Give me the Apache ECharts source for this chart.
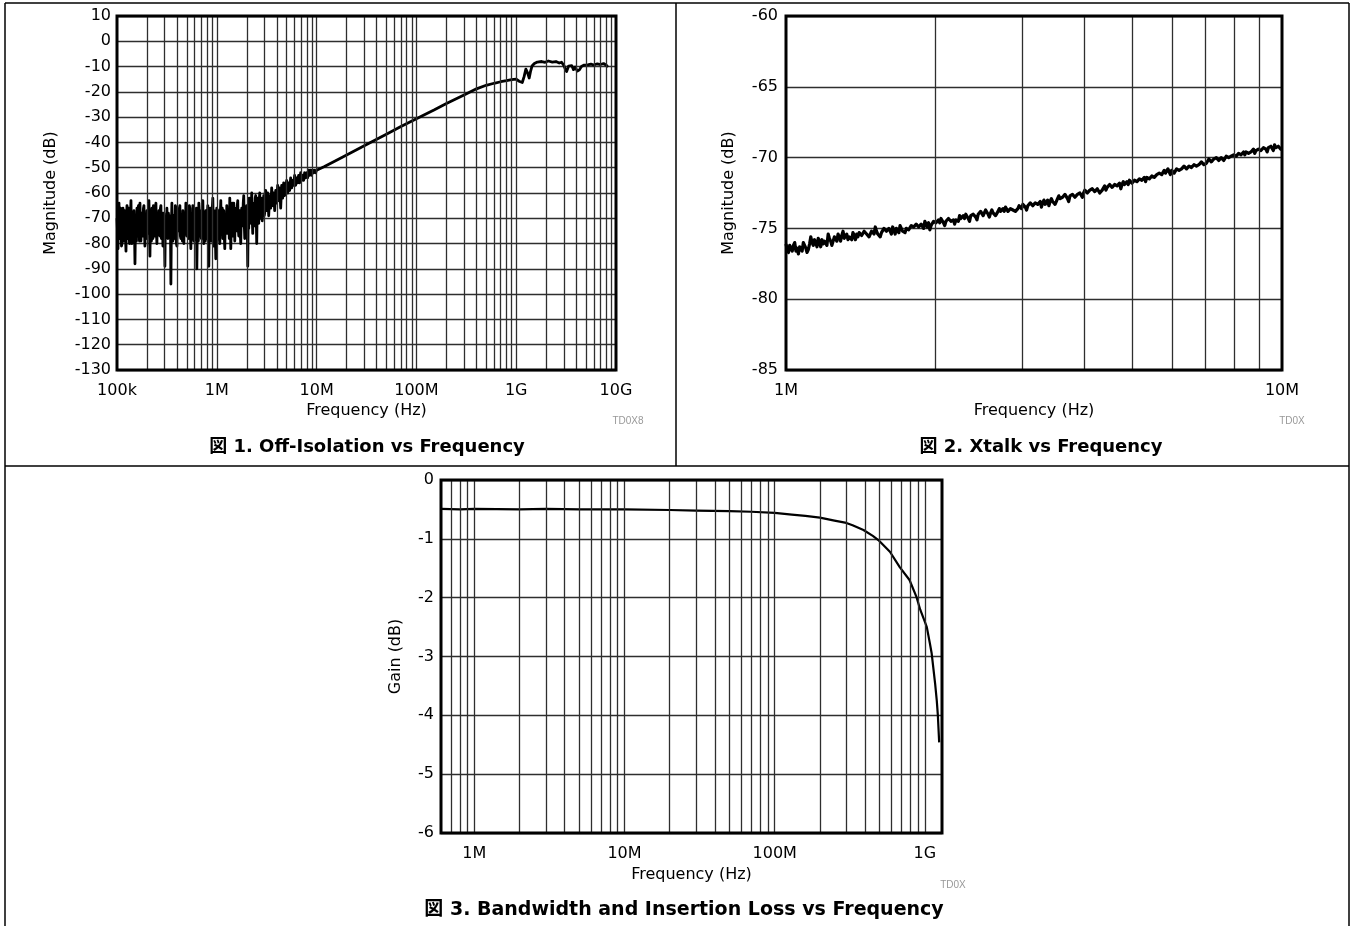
<!DOCTYPE html>
<html><head><meta charset="utf-8">
<script src="https://cdn.jsdelivr.net/npm/echarts@6/dist/echarts.min.js"></script>
<style>html,body{margin:0;padding:0;background:#fff;}#c{width:1350px;height:926px;}</style>
</head><body><div id="c"></div>
<script>
// ---------- Figure 1: Off-Isolation ----------
const isoTickValues = [1e5, 1e6, 1e7, 1e8, 1e9, 1e10];
const isoTickLabels = ['100k', '1M', '10M', '100M', '1G', '10G'];
// noisy floor, sampled every 0.005 decade from 100 kHz (10^5) to ~3.16 MHz (10^6.5)
const isoNoiseStartExp = 5;
const isoNoiseStepExp = 0.005;
const isoNoiseDb = [
  -70,-75,-82,-69,-64,-78,-76,-66,-68,-81,-80,-72,-66,-79,-74,-67,-71,-77,-83,-70,
  -65,-73,-78,-66,-69,-80,-75,-68,-63,-76,-80,-70,-72,-78,-67,-74,-88,-73,-70,-79,
  -66,-72,-77,-65,-71,-79,-64,-73,-79,-70,-68,-77,-74,-66,-65,-75,-81,-69,-70,-78,
  -67,-73,-76,-68,-63,-74,-85,-70,-72,-79,-66,-71,-78,-65,-69,-77,-74,-67,-64,-76,
  -80,-69,-70,-76,-67,-72,-77,-66,-65,-78,-73,-68,-81,-72,-68,-75,-89,-70,-71,-77,
  -66,-74,-78,-68,-70,-77,-75,-69,-96,-73,-64,-76,-79,-70,-69,-78,-75,-65,-66,-80,
  -81,-70,-68,-75,-73,-66,-65,-77,-78,-69,-70,-79,-67,-72,-80,-68,-72,-76,-64,-73,
  -77,-67,-69,-78,-74,-65,-66,-76,-82,-70,-71,-78,-65,-73,-79,-67,-68,-77,-75,-66,
  -90,-72,-70,-79,-64,-71,-77,-67,-69,-78,-73,-65,-63,-76,-80,-69,-71,-79,-67,-74,
  -78,-69,-65,-75,-89,-70,-72,-66,-68,-79,-76,-66,-62,-74,-81,-67,-70,-77,-86,-71,
  -66,-74,-75,-67,-69,-78,-80,-68,-63,-75,-73,-66,-78,-71,-67,-77,-82,-69,-70,-76,
  -65,-74,-76,-67,-71,-78,-62,-70,-82,-73,-69,-64,-74,-77,-64,-70,-79,-66,-68,-75,
  -73,-65,-63,-74,-77,-68,-67,-76,-80,-69,-66,-73,-72,-64,-61,-72,-78,-66,-69,-74,
  -65,-72,-89,-68,-74,-62,-63,-72,-71,-65,-60,-70,-76,-64,-66,-73,-70,-62,-61,-69,
  -80,-66,-62,-71,-72,-63,-60,-69,-70,-62,-63,-71,-71,-64,-61,-69,-68,-60,-59,-66,
  -67
];
// rising noisy part, sampled every 0.01 decade from 10^6.51 to 10 MHz (10^7)
const isoMidStartExp = 6.51;
const isoMidStepExp = 0.01;
const isoMidDb = [
  -60,-69,-61,-66,-58,-65,-60,-67,-59,
  -64,-57,-63,-58,-66,-57,-62,-56,-61,-58,
  -55,-60,-56,-59,-54,-58,-55,-57,-53,-57,
  -54,-56,-53,-56,-52,-55,-53,-55,-52,-54,
  -52,-54,-51,-53,-51,-53,-51,-52,-51,-52,-51
];
// smooth high-frequency part [Hz, dB]
const isoSmooth = [
  [1.2e7,-49.5],[1.5e7,-47.5],[2e7,-45],[3e7,-41.3],[5e7,-36.8],[7e7,-33.7],
  [1e8,-30.6],[1.5e8,-27.2],[2e8,-24.6],[3e8,-21.2],[4e8,-18.8],[5e8,-17.4],
  [6e8,-16.6],[7e8,-16],[8e8,-15.6],[9e8,-15.2],[1e9,-15],[1.07e9,-15.8],
  [1.15e9,-16.3],[1.2e9,-14],[1.25e9,-11],[1.3e9,-12.5],[1.35e9,-14.5],
  [1.39e9,-12],[1.44e9,-9.8],[1.52e9,-8.8],[1.63e9,-8.2],[1.8e9,-8],
  [1.95e9,-8.3],[2.1e9,-7.8],[2.3e9,-8.2],[2.5e9,-8],[2.7e9,-8.6],[2.85e9,-8.3],
  [3.0e9,-9.5],[3.1e9,-11],[3.2e9,-12],[3.35e9,-9.8],[3.5e9,-10.5],[3.6e9,-9.6],
  [3.75e9,-11.2],[3.9e9,-10.2],[4.1e9,-11.8],[4.3e9,-11.3],[4.5e9,-10],
  [4.8e9,-9.4],[5.2e9,-9.3],[5.6e9,-9],[6e9,-9.4],[6.5e9,-8.9],[7e9,-9.2],
  [7.5e9,-8.8],[8e9,-9.5],[8.3e9,-10.2]
];

// ---------- Figure 2: Xtalk ----------
const xtalkTickValues = [1e6, 1e7];
const xtalkTickLabels = ['1M', '10M'];
// sampled every 0.0025 decade from 1 MHz to 10 MHz
const xtalkStartExp = 6;
const xtalkStepExp = 0.0025;
const xtalkDb = [
  -76.1,-76.5,-76.7,-76.2,-76.4,-76.6,-76.2,-76.0,-76.6,-76.4,-76.8,-76.3,-76.3,-76.6,-76.0,-76.2,-76.4,-76.7,-76.5,-76.1,
  -75.6,-76.0,-76.2,-75.8,-76.0,-76.3,-75.7,-75.9,-76.3,-75.8,-76.1,-75.9,-75.8,-76.2,-75.4,-75.7,-75.9,-76.2,-76.1,-75.6,
  -75.7,-75.9,-75.4,-75.6,-75.9,-75.5,-75.2,-75.7,-75.6,-75.4,-75.8,-75.6,-75.5,-75.8,-75.3,-75.5,-75.8,-75.4,-75.6,-75.3,
  -75.3,-75.5,-75.6,-75.2,-75.1,-75.4,-75.4,-75.6,-75.5,-75.2,-75.2,-75.4,-74.9,-75.2,-75.4,-75.5,-75.6,-75.3,-75.2,-75.0,
  -75.0,-75.2,-75.3,-75.0,-75.2,-75.4,-74.9,-75.1,-75.4,-75.0,-75.1,-75.3,-74.8,-75.0,-75.2,-75.3,-75.3,-75.0,-74.9,-75.1,
  -75.1,-74.8,-74.7,-74.9,-74.9,-74.7,-74.6,-74.9,-75.0,-74.7,-74.8,-75.0,-74.5,-74.7,-74.9,-74.6,-75.1,-74.8,-74.7,-74.5,
  -74.4,-74.6,-74.7,-74.4,-74.6,-74.3,-74.3,-74.6,-74.8,-74.5,-74.5,-74.3,-74.2,-74.5,-74.6,-74.4,-74.7,-74.4,-74.3,-74.5,
  -74.1,-74.3,-74.4,-74.1,-74.3,-74.0,-74.0,-74.3,-74.5,-74.1,-74.2,-74.0,-73.9,-74.2,-74.4,-74.0,-74.1,-73.8,-73.9,-74.1,
  -74.0,-73.7,-73.8,-74.0,-74.2,-73.9,-73.7,-73.9,-73.9,-74.1,-74.1,-73.8,-73.6,-73.8,-73.9,-73.6,-73.8,-73.5,-73.6,-73.8,
  -73.8,-73.6,-73.5,-73.7,-73.6,-73.8,-73.9,-73.6,-73.4,-73.5,-73.6,-73.3,-73.3,-73.5,-73.7,-73.4,-73.5,-73.2,-73.2,-73.4,
  -73.4,-73.2,-73.1,-73.3,-73.3,-73.1,-73.5,-73.2,-73.0,-73.3,-73.2,-73.0,-73.4,-73.1,-72.9,-73.1,-73.1,-73.3,-73.2,-72.9,
  -72.7,-72.9,-73.0,-72.8,-72.9,-72.6,-72.6,-72.9,-73.1,-72.7,-72.8,-72.6,-72.5,-72.8,-72.9,-72.6,-72.7,-72.5,-72.6,-72.8,
  -72.5,-72.3,-72.3,-72.5,-72.6,-72.3,-72.4,-72.2,-72.1,-72.4,-72.5,-72.2,-72.3,-72.5,-72.6,-72.3,-72.2,-72.0,-72.3,-72.1,
  -72.1,-71.9,-71.9,-72.1,-72.2,-71.9,-71.8,-72.0,-72.0,-71.8,-72.2,-71.9,-71.7,-71.9,-72.0,-71.7,-71.9,-71.6,-71.7,-71.8,
  -71.8,-71.6,-71.5,-71.7,-71.7,-71.5,-71.4,-71.6,-71.6,-71.4,-71.7,-71.4,-71.3,-71.5,-71.5,-71.3,-71.2,-71.4,-71.4,-71.2,
  -71.3,-71.1,-71.0,-71.2,-71.2,-70.9,-71.1,-71.0,-70.8,-71.0,-71.2,-70.9,-70.9,-71.1,-71.0,-70.8,-70.7,-70.9,-71.0,-70.8,
  -70.8,-70.6,-70.6,-70.8,-70.9,-70.6,-70.5,-70.7,-70.7,-70.5,-70.4,-70.6,-70.7,-70.5,-70.5,-70.3,-70.3,-70.5,-70.6,-70.4,
  -70.3,-70.1,-70.1,-70.3,-70.4,-70.1,-70.2,-70.0,-69.9,-70.2,-70.3,-70.0,-70.0,-70.2,-70.2,-69.9,-69.8,-70.0,-70.1,-69.9,
  -70.0,-69.8,-69.7,-69.9,-69.9,-69.7,-69.6,-69.8,-69.9,-69.6,-69.8,-69.6,-69.5,-69.7,-69.8,-69.6,-69.6,-69.4,-69.7,-69.5,
  -69.6,-69.4,-69.3,-69.5,-69.5,-69.3,-69.2,-69.4,-69.6,-69.3,-69.4,-69.2,-69.3,-69.5,-69.1,-69.3,-69.4,-69.2,-69.3,-69.4,
  -69.4
];

// ---------- Figure 3: Bandwidth ----------
const bwTickValues = [1e6, 1e7, 1e8, 1e9];
const bwTickLabels = ['1M', '10M', '100M', '1G'];
const bwData = [
  [6e5,-0.49],[8e5,-0.5],[1e6,-0.49],[2e6,-0.5],[3e6,-0.49],[5e6,-0.5],[1e7,-0.5],
  [2e7,-0.51],[3e7,-0.52],[5e7,-0.53],[7e7,-0.54],[1e8,-0.56],[1.3e8,-0.59],
  [1.6e8,-0.61],[2e8,-0.64],[2.5e8,-0.69],[3e8,-0.73],[3.3e8,-0.77],[3.9e8,-0.85],
  [4.5e8,-0.95],[4.9e8,-1.02],[5.85e8,-1.22],[6.8e8,-1.48],[7.9e8,-1.7],
  [8.8e8,-1.99],[9.3e8,-2.2],[1e9,-2.41],[1.03e9,-2.5],[1.08e9,-2.78],
  [1.11e9,-2.95],[1.17e9,-3.46],[1.2e9,-3.75],[1.22e9,-4.0],[1.245e9,-4.46]
];

// ---------- build ----------
const FONT = '"DejaVu Sans", "Liberation Sans", Arial, sans-serif';
const CJK = '"DejaVu Sans", "Noto Sans CJK JP", sans-serif';
const GRID_COLOR = '#2e2e2e';

const isoData = isoNoiseDb.map((v, i) => [Math.pow(10, isoNoiseStartExp + i * isoNoiseStepExp), v])
  .concat(isoMidDb.map((v, i) => [Math.pow(10, isoMidStartExp + i * isoMidStepExp), v]))
  .concat(isoSmooth);
const xtalkData = xtalkDb.map((v, i) => [Math.pow(10, xtalkStartExp + i * xtalkStepExp), v]);

function logGridLines(min, max) {
  const out = [];
  for (let d = Math.floor(Math.log10(min)); d <= Math.ceil(Math.log10(max)); d++) {
    for (let m = 1; m <= 9; m++) {
      const f = m * Math.pow(10, d);
      if (f > min * 1.0001 && f < max * 0.9999) out.push(f);
    }
  }
  return out;
}
function labelFmt(values, labels) {
  return function (v) {
    const i = values.findIndex(t => Math.abs(t - v) / t < 1e-6);
    return i >= 0 ? labels[i] : '';
  };
}
function xAxisOf(gi, min, max, vals, labs, nameGap) {
  return {
    gridIndex: gi, type: 'log', logBase: 10, min: min, max: max,
    axisLine: { show: false }, axisTick: { show: false }, splitLine: { show: false },
    axisLabel: { formatter: labelFmt(vals, labs), margin: 13, fontSize: 16, color: '#000', fontFamily: FONT, interval: 0 },
    name: 'Frequency (Hz)', nameLocation: 'middle', nameGap: nameGap,
    nameTextStyle: { fontSize: 16, color: '#000', fontFamily: FONT }
  };
}
function yAxisOf(gi, min, max, interval, name, nameGap, margin) {
  return {
    gridIndex: gi, type: 'value', min: min, max: max, interval: interval,
    axisLine: { show: false }, axisTick: { show: false },
    splitLine: { show: true, lineStyle: { color: GRID_COLOR, width: 1.3 } },
    axisLabel: { margin: margin, fontSize: 16, color: '#000', fontFamily: FONT },
    name: name, nameLocation: 'middle', nameGap: nameGap,
    nameTextStyle: { fontSize: 16, color: '#000', fontFamily: FONT }
  };
}
function gridSeries(gi, min, max) {
  return {
    type: 'line', xAxisIndex: gi, yAxisIndex: gi, data: [], z: 1, silent: true,
    markLine: {
      silent: true, symbol: ['none', 'none'], label: { show: false }, animation: false,
      lineStyle: { color: GRID_COLOR, width: 1.3, type: 'solid' },
      emphasis: { disabled: true },
      data: logGridLines(min, max).map(f => ({ xAxis: f }))
    }
  };
}
function dataSeries(gi, data, width) {
  return {
    type: 'line', xAxisIndex: gi, yAxisIndex: gi, data: data, z: 3,
    showSymbol: false, symbol: 'none', smooth: false,
    lineStyle: { color: '#000', width: width, join: 'round' }
  };
}

const gridBox = { show: true, borderColor: '#000', borderWidth: 3, backgroundColor: 'transparent', z: 10, containLabel: false };
const WM_FONT = '10px "Liberation Sans Narrow", "Liberation Sans", sans-serif';

const option = {
  animation: false,
  backgroundColor: '#fff',
  grid: [
    Object.assign({ left: 117, top: 16, width: 499, height: 354 }, gridBox),
    Object.assign({ left: 786, top: 16, width: 496, height: 354 }, gridBox),
    Object.assign({ left: 441, top: 480, width: 501, height: 353 }, gridBox)
  ],
  xAxis: [
    xAxisOf(0, 1e5, 1e10, isoTickValues, isoTickLabels, 33),
    xAxisOf(1, 1e6, 1e7, xtalkTickValues, xtalkTickLabels, 33),
    xAxisOf(2, 6e5, 1.3e9, bwTickValues, bwTickLabels, 34)
  ],
  yAxis: [
    yAxisOf(0, -130, 10, 10, 'Magnitude (dB)', 58, 6),
    yAxisOf(1, -85, -60, 5, 'Magnitude (dB)', 49, 8),
    yAxisOf(2, -6, 0, 1, 'Gain (dB)', 37, 7)
  ],
  series: [
    gridSeries(0, 1e5, 1e10),
    gridSeries(1, 1e6, 1e7),
    gridSeries(2, 6e5, 1.3e9),
    dataSeries(0, isoData, 2.8),
    dataSeries(1, xtalkData, 3.2),
    dataSeries(2, bwData, 2.2)
  ],
  graphic: [
    { type: 'line', shape: { x1: 5, y1: 3, x2: 1349, y2: 3 }, style: { stroke: '#000', lineWidth: 1.5 } },
    { type: 'line', shape: { x1: 5, y1: 3, x2: 5, y2: 926 }, style: { stroke: '#000', lineWidth: 1.5 } },
    { type: 'line', shape: { x1: 1349, y1: 3, x2: 1349, y2: 926 }, style: { stroke: '#000', lineWidth: 1.5 } },
    { type: 'line', shape: { x1: 676, y1: 3, x2: 676, y2: 466 }, style: { stroke: '#000', lineWidth: 1.5 } },
    { type: 'line', shape: { x1: 5, y1: 466, x2: 1349, y2: 466 }, style: { stroke: '#000', lineWidth: 1.5 } },
    { type: 'text', x: 367, y: 447, style: { text: '図 1. Off-Isolation vs Frequency', font: 'bold 18px ' + CJK, fill: '#000', textAlign: 'center', textVerticalAlign: 'middle' } },
    { type: 'text', x: 1041, y: 447, style: { text: '図 2. Xtalk vs Frequency', font: 'bold 18px ' + CJK, fill: '#000', textAlign: 'center', textVerticalAlign: 'middle' } },
    { type: 'text', x: 684, y: 910, style: { text: '図 3. Bandwidth and Insertion Loss vs Frequency', font: 'bold 19px ' + CJK, fill: '#000', textAlign: 'center', textVerticalAlign: 'middle' } },
    { type: 'text', x: 628, y: 421, style: { text: 'TD0X8', font: WM_FONT, fill: '#999', textAlign: 'center', textVerticalAlign: 'middle' } },
    { type: 'text', x: 1292, y: 421, style: { text: 'TD0X', font: WM_FONT, fill: '#999', textAlign: 'center', textVerticalAlign: 'middle' } },
    { type: 'text', x: 953, y: 885, style: { text: 'TD0X', font: WM_FONT, fill: '#999', textAlign: 'center', textVerticalAlign: 'middle' } }
  ]
};

const chart = echarts.init(document.getElementById('c'), null, { renderer: 'canvas' });
chart.setOption(option);
</script>
</body></html>
